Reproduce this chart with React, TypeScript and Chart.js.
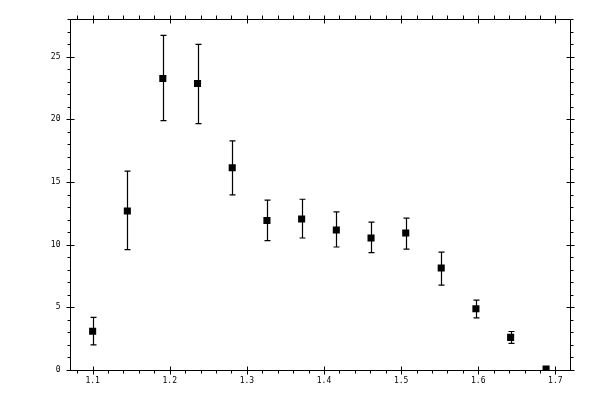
import { useEffect, useRef } from "react";
import { Chart, registerables, type Plugin } from "chart.js";

Chart.register(...registerables);

// measured points (x, value, error range)
const xValues = [1.1, 1.145, 1.191, 1.236, 1.281, 1.326, 1.371, 1.416, 1.461, 1.506, 1.552, 1.597, 1.642, 1.688];
const yValues = [3.09, 12.69, 23.25, 22.85, 16.13, 11.92, 12.05, 11.17, 10.53, 10.93, 8.13, 4.88, 2.6, 0.08];
const yHigh = [4.2, 15.86, 26.7, 25.97, 18.27, 13.55, 13.62, 12.61, 11.79, 12.11, 9.41, 5.57, 3.07, 0.08];
const yLow = [2.0, 9.6, 19.9, 19.65, 13.97, 10.32, 10.53, 9.81, 9.36, 9.65, 6.77, 4.16, 2.13, 0.08];

const xMajorTicks = [1.1, 1.2, 1.3, 1.4, 1.5, 1.6, 1.7];
const yMajorTicks = [0, 5, 10, 15, 20, 25];
const xMinorStep = 0.02;
const yMinorStep = 1;

const FONT = "'DejaVu Sans Mono', monospace";

// error bars behind the markers
const errorBars: Plugin<"scatter"> = {
  id: "errorBars",
  beforeDatasetsDraw(chart) {
    const { ctx, scales } = chart;
    const xs = scales.x, ys = scales.y;
    ctx.save();
    ctx.strokeStyle = "#000";
    ctx.lineWidth = 1.2;
    xValues.forEach((xv, i) => {
      if (yHigh[i] === yLow[i]) return;
      const px = Math.round(xs.getPixelForValue(xv)) + 0.5;
      const top = ys.getPixelForValue(yHigh[i]);
      const bot = ys.getPixelForValue(yLow[i]);
      ctx.beginPath();
      ctx.moveTo(px, top);
      ctx.lineTo(px, bot);
      ctx.moveTo(px - 3, top);
      ctx.lineTo(px + 3, top);
      ctx.moveTo(px - 3, bot);
      ctx.lineTo(px + 3, bot);
      ctx.stroke();
    });
    ctx.restore();
  },
};

// frame with major ticks crossing the lines and minor ticks outside, on all four sides
const frameTicks: Plugin<"scatter"> = {
  id: "frameTicks",
  afterDraw(chart) {
    const { ctx, chartArea: a, scales } = chart;
    const xs = scales.x, ys = scales.y;
    const L = Math.round(a.left) + 0.5, R = Math.round(a.right) + 0.5;
    const T = Math.round(a.top) + 0.5, B = Math.round(a.bottom) + 0.5;
    ctx.save();
    ctx.strokeStyle = "#000";
    ctx.lineWidth = 1;
    ctx.beginPath();
    ctx.rect(L, T, R - L, B - T);

    const xMin = xs.min, xMax = xs.max;
    for (let k = Math.ceil(xMin / xMinorStep); k * xMinorStep <= xMax; k++) {
      const v = k * xMinorStep;
      const px = Math.round(xs.getPixelForValue(v)) + 0.5;
      const major = xMajorTicks.some((m) => Math.abs(m - v) < 1e-6);
      if (major) {
        ctx.moveTo(px, B - 4); ctx.lineTo(px, B + 4);
        ctx.moveTo(px, T - 4); ctx.lineTo(px, T + 4);
      } else {
        ctx.moveTo(px, B); ctx.lineTo(px, B + 3);
        ctx.moveTo(px, T); ctx.lineTo(px, T - 4);
      }
    }
    for (let k = Math.ceil(ys.min / yMinorStep); k * yMinorStep <= ys.max; k++) {
      const v = k * yMinorStep;
      const py = Math.round(ys.getPixelForValue(v)) + 0.5;
      const major = yMajorTicks.includes(v);
      if (major) {
        ctx.moveTo(L - 4, py); ctx.lineTo(L + 4, py);
        ctx.moveTo(R - 4, py); ctx.lineTo(R + 4, py);
      } else {
        ctx.moveTo(L, py); ctx.lineTo(L - 3, py);
        ctx.moveTo(R, py); ctx.lineTo(R + 3, py);
      }
    }
    ctx.stroke();
    ctx.restore();
  },
};

export default function App() {
  const canvasRef = useRef<HTMLCanvasElement>(null);

  useEffect(() => {
    document.body.style.margin = "0";
    if (!canvasRef.current) return;

    const chart = new Chart(canvasRef.current, {
      type: "scatter",
      data: {
        datasets: [{
          data: xValues.map((x, i) => ({ x, y: yValues[i] })),
          pointStyle: "rect",
          pointRadius: 5,
          pointHoverRadius: 5,
          backgroundColor: "#000",
          borderColor: "#000",
          borderWidth: 0,
          showLine: false,
        }],
      },
      options: {
        responsive: true,
        maintainAspectRatio: false,
        animation: false,
        layout: { padding: { top: 19, right: 30, left: 0, bottom: 0 } },
        plugins: {
          legend: { display: false },
          tooltip: { enabled: false },
        },
        scales: {
          x: {
            type: "linear",
            min: 1.07,
            max: 1.719,
            grid: { display: false, drawTicks: false },
            border: { display: false },
            afterFit: (scale) => { scale.height = 30; },
            afterBuildTicks: (scale) => { scale.ticks = xMajorTicks.map((value) => ({ value })); },
            ticks: {
              padding: 6,
              color: "#000",
              font: { family: FONT, size: 8 },
              callback: (v) => Number(v).toFixed(1),
              maxRotation: 0,
            },
          },
          y: {
            type: "linear",
            min: 0,
            max: 28,
            grid: { display: false, drawTicks: false },
            border: { display: false },
            afterFit: (scale) => { scale.width = 69.5; },
            afterBuildTicks: (scale) => { scale.ticks = yMajorTicks.map((value) => ({ value })); },
            ticks: {
              padding: 9,
              color: "#000",
              font: { family: FONT, size: 8 },
              callback: (v) => String(v),
            },
          },
        },
      },
      plugins: [errorBars, frameTicks],
    });

    return () => chart.destroy();
  }, []);

  return (
    <div style={{ width: 600, height: 400, position: "relative", background: "#fff" }}>
      <canvas ref={canvasRef} />
    </div>
  );
}
